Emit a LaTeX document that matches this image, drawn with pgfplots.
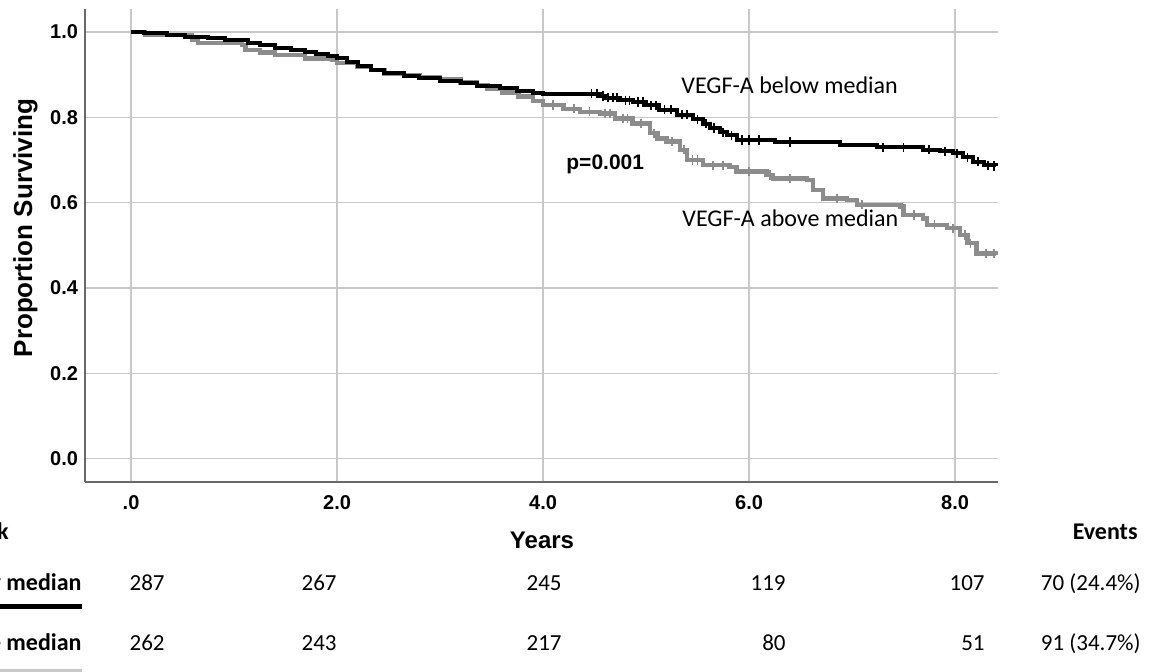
\documentclass[border=0pt]{standalone}
\usepackage{fontspec}
\setmainfont{Liberation Sans}
\newfontfamily\calfont{Carlito}
\usepackage{pgfplots}
\usepackage{pgfplotstable}
\pgfplotsset{compat=1.18}
\definecolor{kmgray}{RGB}{140,140,140}
\definecolor{gridgray}{RGB}{200,200,200}
\definecolor{axgray}{RGB}{105,105,105}
\definecolor{bargray}{RGB}{200,200,200}

\pgfplotstableread{
x y
0.00 1.000
0.13 0.997
0.35 0.993
0.52 0.989
0.75 0.986
0.91 0.981
1.14 0.974
1.25 0.969
1.40 0.963
1.55 0.958
1.69 0.954
1.80 0.949
1.91 0.944
2.00 0.939
2.10 0.930
2.20 0.921
2.33 0.912
2.46 0.903
2.65 0.897
2.80 0.892
3.00 0.886
3.20 0.880
3.36 0.874
3.58 0.868
3.75 0.862
3.90 0.857
4.00 0.855
4.55 0.850
4.60 0.846
4.75 0.840
4.87 0.836
5.00 0.828
5.13 0.818
5.30 0.806
5.46 0.795
5.55 0.785
5.62 0.775
5.72 0.765
5.79 0.758
5.88 0.747
6.25 0.742
6.88 0.736
7.24 0.730
7.69 0.724
7.85 0.720
7.98 0.716
8.08 0.706
8.17 0.696
8.28 0.688
8.40 0.686
}\below

\pgfplotstableread{
x y
0.00 1.000
0.136 0.993
0.59 0.981
0.65 0.974
1.08 0.970
1.11 0.958
1.25 0.952
1.40 0.946
1.69 0.938
1.95 0.934
2.00 0.927
2.20 0.919
2.33 0.911
2.46 0.903
2.65 0.899
2.80 0.895
3.00 0.889
3.20 0.882
3.36 0.876
3.46 0.866
3.60 0.858
3.76 0.849
3.90 0.838
4.00 0.829
4.20 0.820
4.36 0.813
4.55 0.809
4.70 0.797
4.87 0.786
5.04 0.763
5.11 0.750
5.20 0.743
5.33 0.724
5.40 0.700
5.55 0.688
5.81 0.684
5.88 0.673
6.17 0.665
6.23 0.657
6.56 0.653
6.62 0.630
6.72 0.610
6.95 0.606
7.05 0.595
7.47 0.591
7.50 0.571
7.69 0.563
7.73 0.548
7.92 0.540
8.05 0.524
8.12 0.505
8.21 0.481
8.40 0.478
}\above

\pgfplotstableread{
x y
4.47 0.855
4.52 0.855
4.58 0.850
4.63 0.846
4.68 0.846
4.72 0.846
4.80 0.840
4.84 0.840
4.92 0.836
4.97 0.836
5.05 0.828
5.10 0.828
5.18 0.818
5.24 0.818
5.35 0.806
5.40 0.806
5.50 0.795
5.58 0.785
5.66 0.775
5.75 0.765
5.83 0.758
5.93 0.747
6.00 0.747
6.10 0.747
6.40 0.742
7.30 0.730
7.50 0.730
7.75 0.724
7.90 0.720
8.02 0.716
8.12 0.706
8.22 0.696
8.32 0.688
8.38 0.686
}\belowcens

\pgfplotstableread{
x y
4.10 0.829
4.30 0.820
4.45 0.813
4.60 0.809
4.65 0.809
4.78 0.797
4.82 0.797
4.95 0.786
5.08 0.763
5.25 0.743
5.37 0.724
5.45 0.700
5.50 0.700
5.65 0.688
5.75 0.688
6.00 0.673
6.20 0.665
6.40 0.657
6.85 0.610
7.10 0.595
7.60 0.571
7.80 0.548
7.98 0.540
8.10 0.524
8.15 0.505
8.30 0.481
8.38 0.481
}\abovecens

\begin{document}
\begin{tikzpicture}
\useasboundingbox (0,0) rectangle (574.5pt,335.5pt);
\clip (0,0) rectangle (574.5pt,335.5pt);
\begin{axis}[
  at={(42.5pt,94.5pt)}, anchor=south west,
  scale only axis, width=456.5pt, height=236.5pt,
  xmin=-0.447, xmax=8.417, ymin=-0.0549, ymax=1.054,
  axis x line*=bottom, axis y line*=left,
  axis line style={axgray, line width=0.8pt, -},
  xtick={0,2,4,6,8}, xticklabels={.0,2.0,4.0,6.0,8.0},
  ytick={0,0.2,0.4,0.6,0.8,1.0}, yticklabels={0.0,0.2,0.4,0.6,0.8,1.0},
  major tick length=0pt,
  grid=major, major grid style={gridgray, line width=0.75pt},
  tick label style={font=\fontsize{10}{12}\selectfont\bfseries},
  xticklabel style={yshift=-3.2pt},
]
\addplot[const plot, kmgray, line width=2.2pt] table {\above};
\addplot[only marks, mark=|, mark size=2.3pt, mark options={kmgray, line width=0.9pt}] table {\abovecens};
\addplot[const plot, black, line width=2pt] table {\below};
\addplot[only marks, mark=|, mark size=2.3pt, mark options={black, line width=0.9pt}] table {\belowcens};
\end{axis}
\begin{scope}[x=0.5pt, y=-0.5pt, shift={(0,335.5pt)}]
  \node[anchor=base west, inner sep=0, font=\calfont\fontsize{12}{14}\selectfont] at (681,94) {VEGF-A below median};
  \node[anchor=base west, inner sep=0, font=\calfont\fontsize{12}{14}\selectfont] at (682,226) {VEGF-A above median};
  \node[anchor=base west, inner sep=0, font=\bfseries\fontsize{10.5}{12}\selectfont] at (566,169) {p=0.001};
  \node[rotate=90, anchor=base, inner sep=0, font=\bfseries\fontsize{13}{15}\selectfont] at (32,228) {Proportion Surviving};
  \node[anchor=base, inner sep=0, font=\bfseries\fontsize{12}{14}\selectfont] at (542,548) {Years};
  \node[anchor=base east, inner sep=0, font=\calfont\bfseries\fontsize{12}{14}\selectfont] at (1138,539) {Events};
  \node[anchor=base east, inner sep=0, font=\calfont\bfseries\fontsize{12}{14}\selectfont] at (9,539) {Number at risk};
  \node[anchor=base east, inner sep=0, font=\calfont\bfseries\fontsize{12}{14}\selectfont] at (82,590) {VEGF-A below median};
  \node[anchor=base east, inner sep=0, font=\calfont\bfseries\fontsize{12}{14}\selectfont] at (82,650) {VEGF-A above median};
  \draw[black, line width=2.3pt] (0,606.7) -- (82,606.7);
  \draw[bargray, line width=2.3pt] (0,671) -- (82,671);
  \begin{scope}[every node/.style={anchor=base east, inner sep=0, font=\calfont\fontsize{11.5}{14}\selectfont}]
    \node at (165,590) {287};
    \node at (337,590) {267};
    \node at (562,590) {245};
    \node at (786,590) {119};
    \node at (985,590) {107};
    \node at (1141,590) {70 (24.4\%)};
    \node at (165,650) {262};
    \node at (337,650) {243};
    \node at (562,650) {217};
    \node at (786,650) {80};
    \node at (985,650) {51};
    \node at (1141,650) {91 (34.7\%)};
  \end{scope}
\end{scope}
\end{tikzpicture}
\end{document}
